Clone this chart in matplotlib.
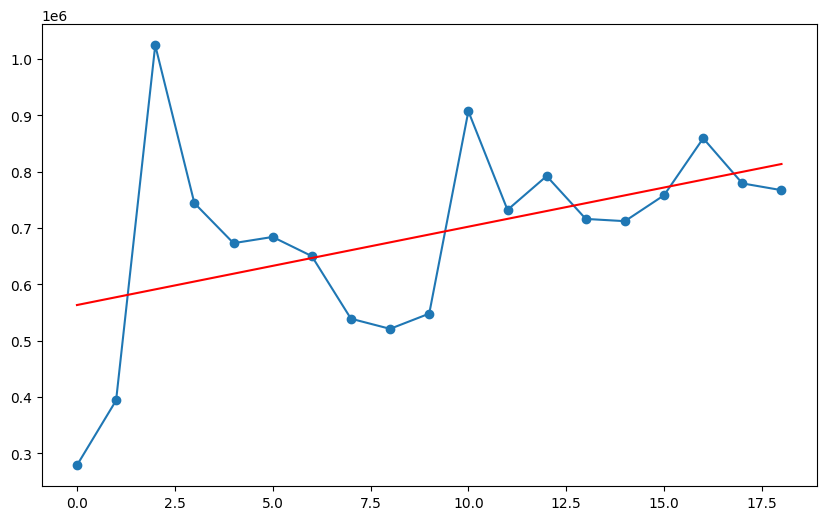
import numpy as np
import matplotlib
matplotlib.use("Agg")
import matplotlib.pyplot as plt

x_vals = list(range(19))
y_vals = [279000, 394000, 1024000, 744000, 673000, 684000, 650000, 539000, 521000,
          548000, 907000, 732000, 792000, 716000, 712000, 758000, 859000, 779000, 767000]

coef = np.polyfit(x_vals, y_vals, 1)
trend = np.polyval(coef, x_vals)

fig, ax = plt.subplots(figsize=(10, 6), dpi=100)
ax.plot(x_vals, y_vals, marker='o')
ax.plot(x_vals, trend, color='red')
fig.savefig("out.png", bbox_inches='tight')
